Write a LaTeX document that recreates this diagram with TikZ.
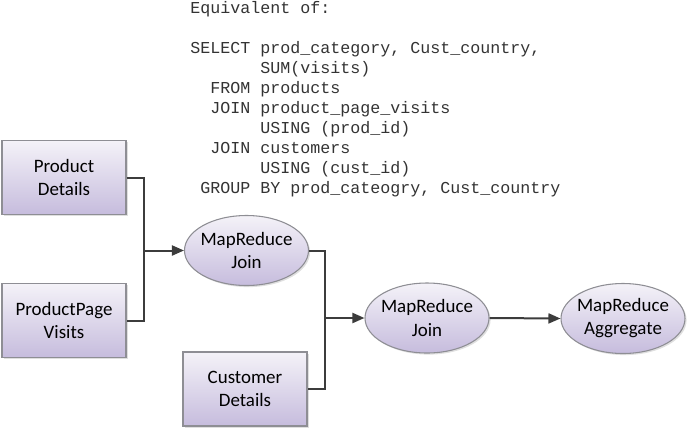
\documentclass[tikz,border=0pt]{standalone}
\usepackage{fontspec}
\setmainfont{Carlito}
\newfontfamily\codefont{Liberation Mono}
\usetikzlibrary{shapes.geometric,arrows.meta,shadows}
\definecolor{boxtop}{HTML}{F4F2F8}
\definecolor{boxbot}{HTML}{C6BCDD}
\definecolor{boxline}{HTML}{8E8E94}
\definecolor{conn}{HTML}{3C3C3C}
\definecolor{codecol}{HTML}{333333}
\tikzset{
  shade box/.style={draw=boxline, line width=0.8pt, top color=boxtop, bottom color=boxbot,
    drop shadow={opacity=0.25, shadow xshift=1.2pt, shadow yshift=-1.2pt},
    font=\fontsize{14.2pt}{17.3pt}\selectfont, text=black, align=center, inner sep=0pt},
  databox/.style={shade box, rectangle, minimum width=93pt, minimum height=55.5pt},
  procell/.style={shade box, ellipse, inner xsep=-14pt, minimum width=93pt, minimum height=52.5pt},
  codeline/.style={anchor=base west, inner sep=0pt, text=codecol, font=\codefont\fontsize{12.5pt}{15pt}\selectfont},
  conline/.style={draw=conn, line width=1.5pt},
  conarrow/.style={conline, -{Triangle[length=9pt,width=7.5pt]}}
}
\begin{document}
\begin{tikzpicture}[x=0.75pt,y=-0.75pt]
\useasboundingbox (0,0) rectangle (690,430);
% code text
\node[codeline] (c0) at (190,13) {Equivalent of:};
\node[codeline] (c1) at (190,53) {SELECT prod\_category, Cust\_country,};
\node[codeline] (c2) at (260,73) {SUM(visits)};
\node[codeline] (c3) at (210,93) {FROM products};
\node[codeline] (c4) at (210,113) {JOIN product\_page\_visits};
\node[codeline] (c5) at (260,133) {USING (prod\_id)};
\node[codeline] (c6) at (210,153) {JOIN customers};
\node[codeline] (c7) at (260,173) {USING (cust\_id)};
\node[codeline] (c8) at (200,193) {GROUP BY prod\_cateogry, Cust\_country};
% nodes
\node[databox] (pd) at (64,177.5) {Product\\Details};
\node[databox] (ppv) at (64,320.5) {ProductPage\\Visits};
\node[databox] (cd) at (245,389) {Customer\\Details};
\node[procell] (mr1) at (246.5,250.5) {MapReduce\\Join};
\node[procell] (mr2) at (427,318) {MapReduce\\Join};
\node[procell] (mr3) at (623,318.5) {MapReduce\\Aggregate};
% connectors
\coordinate (j1) at (144,250.5);
\coordinate (j2) at (325,318);
\draw[conline] (pd.east) -| (j1) |- (ppv.east);
\draw[conarrow] (j1) -- (mr1.west);
\draw[conline] (mr1.east) -| (j2) |- (cd.east);
\draw[conarrow] (j2) -- (mr2.west);
\draw[conarrow] (mr2.east) -- (mr3.west);
\end{tikzpicture}
\end{document}
